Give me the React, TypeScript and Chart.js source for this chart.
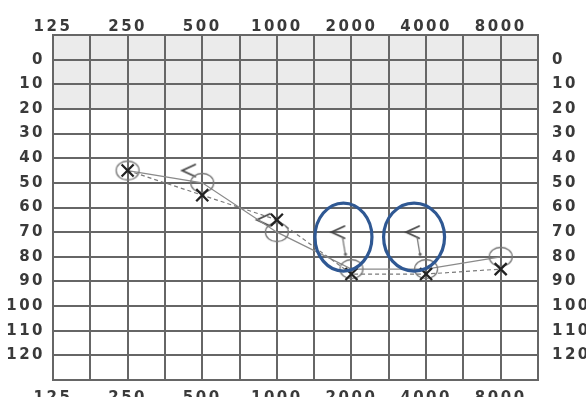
import React, { useEffect, useRef } from 'react';
import { Chart, registerables } from 'chart.js';

Chart.register(...registerables);

// ---- data ----
const freqLabels = [125, 250, 500, 1000, 2000, 4000, 8000];
const testFreqs = [250, 500, 1000, 2000, 4000, 8000];
const rightAirDb = [45, 50, 70, 85, 85, 80]; // O
const leftAirDb = [45, 55, 65, 87, 87, 85]; // X
const boneFreqs = [500, 1000, 2000, 4000];
const boneDb = [45, 65, 70, 70]; // <
const boneNoResponse = [false, false, true, true];
const dbMin = -10;
const dbMax = 130;
const dbLabelMin = 0;
const dbLabelMax = 120;
const normalBand = [-10, 20];
const circledFreqs = [2000, 4000];
const circledDb = [72, 72];

const gridFreqs = freqLabels.flatMap((f) => [f, f * Math.SQRT2]);

const GRID = '#666666';
const TEXT = '#3a3a3a';
const FONT = { family: 'DejaVu Sans', size: 15, weight: 'bold' as const };
const LETTER_SPACING = '2.5px';

function makeBoneImg(noResp: boolean): HTMLCanvasElement {
  const c = document.createElement('canvas');
  c.width = 56;
  c.height = 56;
  const ctx = c.getContext('2d')!;
  const m = 28;
  ctx.strokeStyle = '#444';
  ctx.lineWidth = 1.8;
  ctx.lineCap = 'round';
  ctx.beginPath();
  ctx.moveTo(m - 7, m - 6);
  ctx.lineTo(m - 20, m);
  ctx.lineTo(m - 7, m + 6);
  ctx.stroke();
  if (noResp) {
    ctx.lineWidth = 1.3;
    ctx.strokeStyle = '#777';
    ctx.beginPath();
    ctx.moveTo(m - 9, m + 5);
    ctx.lineTo(m - 6, m + 23);
    ctx.stroke();
    ctx.fillStyle = '#666';
    ctx.beginPath();
    ctx.arc(m - 6, m + 22, 1.6, 0, Math.PI * 2);
    ctx.fill();
  }
  return c;
}

function makeOImg(): HTMLCanvasElement {
  const c = document.createElement('canvas');
  c.width = 30;
  c.height = 24;
  const ctx = c.getContext('2d')!;
  ctx.strokeStyle = '#7a7a7a';
  ctx.lineWidth = 1.3;
  ctx.beginPath();
  ctx.ellipse(15, 12, 11.5, 9.5, 0, 0, Math.PI * 2);
  ctx.stroke();
  return c;
}

const spacingPlugin = {
  id: 'spacing',
  beforeUpdate(chart: any) {
    chart.ctx.letterSpacing = LETTER_SPACING;
  },
  beforeDraw(chart: any) {
    chart.ctx.letterSpacing = LETTER_SPACING;
  },
};

const bandPlugin = {
  id: 'band',
  beforeDraw(chart: any) {
    const { ctx, chartArea, scales } = chart;
    const y = scales.y;
    const y0 = y.getPixelForValue(normalBand[0]);
    const y1 = y.getPixelForValue(normalBand[1]);
    ctx.save();
    ctx.fillStyle = '#ffffff';
    ctx.fillRect(0, 0, chart.width, chart.height);
    ctx.fillStyle = '#ebebeb';
    ctx.fillRect(chartArea.left, Math.min(y0, y1), chartArea.right - chartArea.left, Math.abs(y1 - y0));
    ctx.restore();
  },
};

const ellipseOffsets = [-8, -12];
const ellipseRx = [28.5, 30.5];
const ellipsePlugin = {
  id: 'ellipses',
  afterDatasetsDraw(chart: any) {
    const { ctx, scales } = chart;
    ctx.save();
    ctx.strokeStyle = '#2f5893';
    ctx.lineWidth = 3.2;
    circledFreqs.forEach((f, i) => {
      const cx = scales.x.getPixelForValue(f) + ellipseOffsets[i];
      const cy = scales.y.getPixelForValue(circledDb[i]);
      ctx.beginPath();
      ctx.ellipse(cx, cy, ellipseRx[i], 34, 0, 0, Math.PI * 2);
      ctx.stroke();
    });
    ctx.restore();
  },
};

function xAxis(position: 'top' | 'bottom', showGrid: boolean, h: number, pad: number) {
  return {
    type: 'logarithmic' as const,
    position,
    min: freqLabels[0],
    max: freqLabels[freqLabels.length - 1] * Math.SQRT2,
    afterBuildTicks: (scale: any) => {
      scale.ticks = gridFreqs.map((v) => ({ value: v }));
    },
    afterFit: (scale: any) => {
      scale.height = h;
    },
    ticks: {
      autoSkip: false,
      maxRotation: 0,
      minRotation: 0,
      padding: pad,
      color: TEXT,
      font: FONT,
      callback: (v: any) => (freqLabels.includes(Number(v)) ? String(v) : ''),
    },
    grid: { display: showGrid, color: GRID, lineWidth: 2, drawTicks: false },
    border: { display: true, color: GRID, width: 2 },
  };
}

function yAxis(position: 'left' | 'right', showGrid: boolean, w: number, pad: number) {
  return {
    type: 'linear' as const,
    position,
    reverse: true,
    min: dbMin,
    max: dbMax,
    afterFit: (scale: any) => {
      scale.width = w;
    },
    ticks: {
      stepSize: 10,
      padding: pad,
      color: TEXT,
      font: FONT,
      callback: (v: any) => (v >= dbLabelMin && v <= dbLabelMax ? String(v) : ''),
    },
    grid: { display: showGrid, color: GRID, lineWidth: 2, drawTicks: false },
    border: { display: true, color: GRID, width: 2 },
  };
}

export default function App() {
  const ref = useRef<HTMLCanvasElement>(null);

  useEffect(() => {
    document.body.style.margin = '0';
    const canvas = ref.current!;
    const boneStyles = boneNoResponse.map((n) => makeBoneImg(n));
    const oImg = makeOImg();
    const chart = new Chart(canvas, {
      type: 'line',
      data: {
        datasets: [
          {
            label: 'Left air (X)',
            data: testFreqs.map((f, i) => ({ x: f, y: leftAirDb[i] })),
            borderColor: '#7a7a7a',
            borderWidth: 1.2,
            borderDash: [4, 3],
            pointStyle: 'crossRot',
            pointRadius: 8.5,
            pointBorderColor: '#222',
            pointBorderWidth: 2.3,
            pointBackgroundColor: 'transparent',
            fill: false,
          },
          {
            label: 'Right air (O)',
            data: testFreqs.map((f, i) => ({ x: f, y: rightAirDb[i] })),
            borderColor: '#8a8a8a',
            borderWidth: 1.2,
            pointStyle: oImg as any,
            pointRadius: 10,
            fill: false,
          },
          {
            label: 'Bone (<)',
            data: boneFreqs.map((f, i) => ({ x: f, y: boneDb[i] })),
            showLine: false,
            pointStyle: boneStyles as any,
            pointRadius: 10,
          },
        ],
      },
      options: {
        responsive: false,
        animation: false,
        layout: { padding: 0 },
        plugins: { legend: { display: false }, tooltip: { enabled: false } },
        scales: {
          x: xAxis('bottom', true, 17, 9),
          x2: xAxis('top', false, 35, -1),
          y: yAxis('left', true, 53, 8),
          y2: yAxis('right', false, 48, 14),
        } as any,
      },
      plugins: [spacingPlugin, bandPlugin, ellipsePlugin],
    });
    return () => chart.destroy();
  }, []);

  return <canvas ref={ref} width={586} height={403} style={{ display: 'block' }} />;
}
